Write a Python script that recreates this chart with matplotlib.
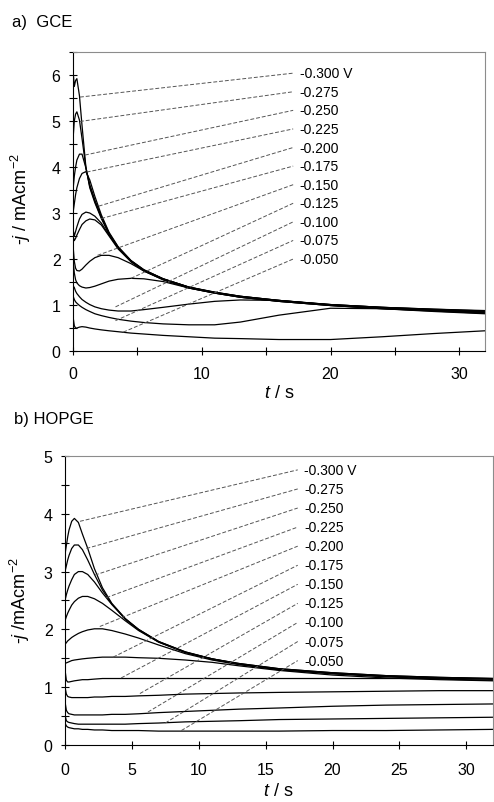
import matplotlib
matplotlib.use("Agg")
import matplotlib.pyplot as plt
from matplotlib.ticker import MultipleLocator

plt.rcParams["font.family"] = ["Liberation Sans", "DejaVu Sans"]
plt.rcParams["mathtext.fontset"] = "custom"
plt.rcParams["mathtext.rm"] = "Liberation Sans"
plt.rcParams["mathtext.it"] = "Liberation Sans:italic"

# potentials (labels, top to bottom)
potentials = ["-0.300 V", "-0.275", "-0.250", "-0.225", "-0.200", "-0.175",
              "-0.150", "-0.125", "-0.100", "-0.075", "-0.050"]

# sample times (s)
t = [0, 0.1, 0.2, 0.3, 0.5, 0.7, 1.0, 1.3, 1.7, 2.2, 2.8, 3.5, 4.5, 5.5,
     7, 9, 11, 13, 16, 20, 24, 28, 32]

# a) GCE, -j in mA cm-2
gce_300 = [6.10, 5.75, 5.88, 5.92, 5.55, 4.90, 4.00, 3.55, 3.22, 2.88, 2.54, 2.24, 1.95, 1.75, 1.56, 1.38, 1.27, 1.18, 1.09, 1.01, 0.95, 0.91, 0.88]
gce_275 = [4.60, 5.00, 5.15, 5.20, 5.02, 4.62, 3.98, 3.58, 3.25, 2.90, 2.55, 2.25, 1.96, 1.76, 1.57, 1.39, 1.27, 1.19, 1.10, 1.01, 0.95, 0.91, 0.87]
gce_250 = [3.50, 3.80, 4.00, 4.15, 4.28, 4.28, 3.98, 3.62, 3.28, 2.92, 2.56, 2.26, 1.96, 1.76, 1.57, 1.39, 1.28, 1.19, 1.10, 1.01, 0.95, 0.90, 0.86]
gce_225 = [3.00, 3.20, 3.40, 3.55, 3.75, 3.86, 3.90, 3.72, 3.36, 2.96, 2.58, 2.27, 1.97, 1.77, 1.57, 1.39, 1.28, 1.19, 1.10, 1.00, 0.94, 0.89, 0.85]
gce_200 = [2.65, 2.50, 2.60, 2.70, 2.87, 2.97, 3.02, 3.00, 2.93, 2.78, 2.52, 2.24, 1.95, 1.75, 1.56, 1.38, 1.27, 1.18, 1.09, 1.00, 0.94, 0.89, 0.84]
gce_175 = [2.50, 2.40, 2.45, 2.52, 2.64, 2.75, 2.83, 2.87, 2.85, 2.74, 2.50, 2.22, 1.94, 1.74, 1.55, 1.37, 1.26, 1.17, 1.08, 0.99, 0.93, 0.88, 0.83]
gce_150 = [2.30, 1.95, 1.80, 1.75, 1.74, 1.78, 1.87, 1.95, 2.03, 2.08, 2.08, 2.03, 1.90, 1.74, 1.55, 1.37, 1.26, 1.17, 1.08, 0.99, 0.92, 0.87, 0.82]
gce_125 = [2.00, 1.70, 1.55, 1.48, 1.42, 1.39, 1.37, 1.38, 1.41, 1.46, 1.52, 1.56, 1.58, 1.57, 1.51, 1.37, 1.26, 1.17, 1.08, 0.99, 0.92, 0.86, 0.81]
gce_100 = [1.42, 1.38, 1.30, 1.25, 1.18, 1.12, 1.06, 1.01, 0.96, 0.92, 0.89, 0.87, 0.87, 0.90, 0.95, 1.02, 1.08, 1.11, 1.10, 1.00, 0.93, 0.88, 0.83]
gce_075 = [1.20, 1.12, 1.07, 1.04, 0.99, 0.95, 0.90, 0.86, 0.81, 0.77, 0.73, 0.69, 0.65, 0.62, 0.59, 0.57, 0.57, 0.63, 0.78, 0.93, 0.92, 0.88, 0.84]
gce_050 = [0.75, 0.55, 0.50, 0.50, 0.52, 0.53, 0.52, 0.50, 0.48, 0.46, 0.44, 0.42, 0.39, 0.37, 0.34, 0.31, 0.28, 0.27, 0.25, 0.25, 0.31, 0.38, 0.44]

# b) HOPGE
hop_300 = [3.30, 3.45, 3.60, 3.72, 3.87, 3.92, 3.85, 3.65, 3.40, 3.05, 2.72, 2.45, 2.19, 2.00, 1.79, 1.61, 1.49, 1.41, 1.32, 1.25, 1.20, 1.17, 1.15]
hop_275 = [3.00, 3.10, 3.20, 3.28, 3.40, 3.46, 3.46, 3.38, 3.20, 2.95, 2.68, 2.44, 2.18, 2.00, 1.79, 1.61, 1.49, 1.41, 1.32, 1.25, 1.20, 1.17, 1.15]
hop_250 = [2.50, 2.60, 2.68, 2.75, 2.86, 2.95, 3.00, 3.00, 2.95, 2.82, 2.63, 2.43, 2.18, 1.99, 1.78, 1.60, 1.49, 1.40, 1.31, 1.24, 1.19, 1.16, 1.14]
hop_225 = [2.15, 2.22, 2.28, 2.33, 2.42, 2.48, 2.54, 2.57, 2.57, 2.53, 2.45, 2.33, 2.15, 1.98, 1.78, 1.60, 1.48, 1.40, 1.31, 1.24, 1.19, 1.16, 1.14]
hop_200 = [1.74, 1.77, 1.80, 1.82, 1.86, 1.89, 1.93, 1.96, 1.99, 2.01, 2.01, 1.98, 1.92, 1.85, 1.73, 1.58, 1.47, 1.39, 1.30, 1.23, 1.18, 1.14, 1.12]
hop_175 = [1.42, 1.42, 1.43, 1.44, 1.46, 1.47, 1.48, 1.49, 1.50, 1.51, 1.52, 1.52, 1.52, 1.51, 1.50, 1.47, 1.43, 1.37, 1.29, 1.21, 1.16, 1.13, 1.11]
hop_150 = [1.30, 1.12, 1.09, 1.09, 1.10, 1.11, 1.12, 1.13, 1.13, 1.14, 1.15, 1.15, 1.15, 1.15, 1.15, 1.15, 1.15, 1.15, 1.15, 1.15, 1.15, 1.15, 1.15]
hop_125 = [1.00, 0.88, 0.84, 0.83, 0.82, 0.82, 0.82, 0.82, 0.82, 0.83, 0.83, 0.84, 0.84, 0.85, 0.86, 0.88, 0.89, 0.90, 0.91, 0.92, 0.93, 0.94, 0.94]
hop_100 = [0.75, 0.60, 0.56, 0.54, 0.53, 0.52, 0.52, 0.52, 0.52, 0.52, 0.52, 0.53, 0.53, 0.54, 0.56, 0.58, 0.60, 0.62, 0.64, 0.67, 0.69, 0.70, 0.71]
hop_075 = [0.52, 0.42, 0.40, 0.39, 0.38, 0.37, 0.36, 0.36, 0.36, 0.36, 0.36, 0.36, 0.36, 0.37, 0.38, 0.40, 0.41, 0.42, 0.44, 0.45, 0.46, 0.47, 0.48]
hop_050 = [0.38, 0.33, 0.31, 0.30, 0.29, 0.28, 0.28, 0.27, 0.27, 0.26, 0.26, 0.25, 0.25, 0.25, 0.24, 0.24, 0.24, 0.24, 0.24, 0.25, 0.25, 0.26, 0.27]

# where each dashed leader touches its curve (t, -j)
gce_lead_t = [0.54, 0.54, 0.93, 1.06, 2.0, 2.2, 1.9, 4.5, 3.3, 3.3, 3.9]
gce_lead_j = [5.52, 4.99, 4.26, 3.89, 3.15, 2.88, 2.08, 1.58, 0.96, 0.66, 0.41]
hop_lead_t = [1.12, 1.6, 2.24, 3.1, 2.6, 3.6, 4.2, 5.6, 6.2, 7.5, 8.7]
hop_lead_j = [3.87, 3.4, 2.94, 2.55, 2.05, 1.52, 1.16, 0.89, 0.57, 0.38, 0.25]

gce = [gce_300, gce_275, gce_250, gce_225, gce_200, gce_175,
       gce_150, gce_125, gce_100, gce_075, gce_050]
hop = [hop_300, hop_275, hop_250, hop_225, hop_200, hop_175,
       hop_150, hop_125, hop_100, hop_075, hop_050]


def draw_panel(ax, curves, lead_t, lead_j, label_t, label_j0, label_dj, ymax):
    for j in curves:
        ax.plot(t, j, color="black", lw=0.9)
    for i, name in enumerate(potentials):
        ly = label_j0 - i * label_dj
        ax.plot([lead_t[i], label_t - 0.5], [lead_j[i], ly], color="#555555",
                lw=0.7, dashes=(4, 2))
        ax.text(label_t, ly, name, fontsize=10, va="center", ha="left")

    ax.set_xlim(0, 32)
    ax.set_ylim(0, ymax)
    ax.yaxis.set_major_locator(MultipleLocator(1))
    ax.yaxis.set_minor_locator(MultipleLocator(0.5))
    ax.tick_params(which="both", direction="inout", length=6, width=0.8,
                   labelsize=11.5)
    ax.tick_params(axis="y", pad=6)
    ax.tick_params(axis="x", pad=8)
    for side in ("top", "right"):
        ax.spines[side].set_color("#8c8c8c")
    for side in ("left", "bottom"):
        ax.spines[side].set_color("black")
    ax.set_xlabel(r"$t$ / s", fontsize=13)


fig = plt.figure(figsize=(4.94, 8.03), dpi=100)

ax1 = fig.add_axes([0.1478, 0.5616, 0.834, 0.3724])
draw_panel(ax1, gce, gce_lead_t, gce_lead_j, 17.6, 6.04, 0.404, 6.5)
ax1.xaxis.set_major_locator(MultipleLocator(10))
ax1.xaxis.set_minor_locator(MultipleLocator(5))
ax1.set_ylabel(r"-$j$ / mAcm$^{-2}$", fontsize=13)
ax1.yaxis.set_label_coords(-0.097, 0.51)
ax1.xaxis.set_label_coords(0.50, -0.110)
fig.text(0.024, 0.972, "a)  GCE", fontsize=12, va="center")

ax2 = fig.add_axes([0.1316, 0.0710, 0.8664, 0.3599])
draw_panel(ax2, hop, hop_lead_t, hop_lead_j, 17.9, 4.76, 0.33, 5)
ax2.xaxis.set_major_locator(MultipleLocator(5))
ax2.tick_params(axis="x", pad=9)
ax2.set_ylabel(r"-$j$ /mAcm$^{-2}$", fontsize=13)
ax2.yaxis.set_label_coords(-0.077, 0.505)
ax2.xaxis.set_label_coords(0.498, -0.128)
fig.text(0.028, 0.477, "b) HOPGE", fontsize=12, va="center")

fig.savefig("out.png", dpi=100)
